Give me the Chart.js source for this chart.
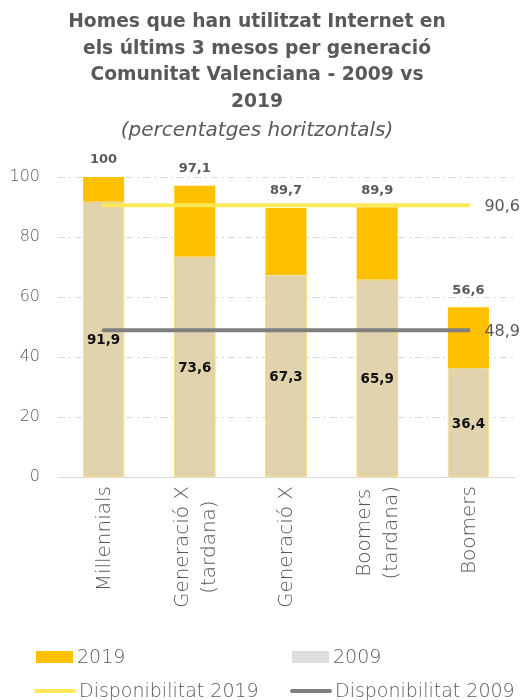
<!DOCTYPE html>
<html>
<head>
<meta charset="utf-8">
<script src="https://cdn.jsdelivr.net/npm/chart.js@4.4.1/dist/chart.umd.min.js"></script>
<style>
  html, body { margin: 0; padding: 0; background: #ffffff; }
  #wrap { width: 524px; height: 700px; position: relative; }
</style>
</head>
<body>
<div id="wrap"><canvas id="c" width="524" height="700"></canvas></div>
<script>
// ---- data ----
const categories = [
  ['Millennials'],
  ['Generació X', '(tardana)'],
  ['Generació X'],
  ['Boomers', '(tardana)'],
  ['Boomers']
];
const values2019 = [100, 97.1, 89.7, 89.9, 56.6];
const values2009 = [91.9, 73.6, 67.3, 65.9, 36.4];
const disponibilitat2019 = [90.6, 90.6, 90.6, 90.6, 90.6];
const disponibilitat2009 = [48.9, 48.9, 48.9, 48.9, 48.9];
const yTicks = [0, 20, 40, 60, 80, 100];

const titleLines = ['Homes que han utilitzat Internet en', 'els últims 3 mesos per generació', 'Comunitat Valenciana - 2009 vs', '2019'];
const subtitleText = '(percentatges horitzontals)';

const FONT = "'DejaVu Sans', sans-serif";
const GRAY_TEXT = '#595959';

function fmt(v) {
  return (Number.isInteger(v) ? String(v) : v.toFixed(1)).replace('.', ',');
}

const labelPlugin = {
  id: 'valueLabels',
  afterDatasetsDraw(chart) {
    const ctx = chart.ctx;
    ctx.save();
    chart.data.datasets.forEach((ds, i) => {
      const meta = chart.getDatasetMeta(i);
      if (meta.hidden) return;
      if (ds.labelMode === 'top') {
        ctx.font = "bold 13px " + FONT;
        ctx.fillStyle = GRAY_TEXT;
        ctx.textAlign = 'center';
        ctx.textBaseline = 'middle';
        meta.data.forEach((el, j) => ctx.fillText(fmt(ds.data[j]), el.x, el.y - 17));
      } else if (ds.labelMode === 'middle') {
        ctx.font = "bold 13.5px " + FONT;
        ctx.fillStyle = '#111111';
        ctx.textAlign = 'center';
        ctx.textBaseline = 'middle';
        meta.data.forEach((el, j) => ctx.fillText(fmt(ds.data[j]), el.x, (el.y + el.base) / 2 + 2));
      } else if (ds.labelMode === 'end') {
        ctx.font = "16px " + FONT;
        ctx.fillStyle = GRAY_TEXT;
        ctx.textAlign = 'left';
        ctx.textBaseline = 'middle';
        const n = meta.data.length - 1;
        const el = meta.data[n];
        ctx.fillText(fmt(ds.data[n]), el.x + 16, el.y + 2);
      }
    });
    ctx.restore();
  }
};

// category labels: rotated, multi-line blocks centred on the tick
const xLabelPlugin = {
  id: 'xLabels',
  afterDraw(chart) {
    const scale = chart.scales.x;
    const ctx = chart.ctx;
    ctx.save();
    ctx.font = "300 20px " + FONT;
    ctx.fillStyle = GRAY_TEXT;
    ctx.textBaseline = 'middle';
    ctx.textAlign = 'center';
    const lh = 27, pad = 9;
    chart.data.labels.forEach((lab, i) => {
      const lines = [].concat(lab);
      const blockW = Math.max(...lines.map(l => ctx.measureText(l).width));
      const x0 = scale.getPixelForTick(i);
      lines.forEach((line, k) => {
        const x = x0 + (k - (lines.length - 1) / 2) * lh + 1;
        const y = scale.top + pad + blockW / 2;
        ctx.save();
        ctx.translate(x, y);
        ctx.rotate(-Math.PI / 2);
        ctx.fillText(line, 0, 0);
        ctx.restore();
      });
    });
    ctx.restore();
  }
};

const legendPlugin = {
  id: 'gridLegend',
  afterDraw(chart, args, opts) {
    const ctx = chart.ctx;
    ctx.save();
    ctx.font = "300 19px " + FONT;
    ctx.fillStyle = GRAY_TEXT;
    ctx.textBaseline = 'middle';
    ctx.textAlign = 'left';
    opts.items.forEach(it => {
      const ds = chart.data.datasets[it.index];
      const color = ds.legendColor || ds.backgroundColor;
      if (ds.type === 'line') {
        ctx.strokeStyle = ds.borderColor;
        ctx.lineWidth = 4;
        ctx.lineCap = 'round';
        ctx.beginPath();
        ctx.moveTo(it.x, it.y);
        ctx.lineTo(it.x + 38, it.y);
        ctx.stroke();
        ctx.fillStyle = GRAY_TEXT;
        ctx.fillText(ds.label, it.x + 43, it.y + 1);
      } else {
        ctx.fillStyle = color;
        ctx.fillRect(it.x, it.y - 6, 37, 12);
        ctx.fillStyle = GRAY_TEXT;
        ctx.fillText(ds.label, it.x + 41, it.y + 1);
      }
    });
    ctx.restore();
  }
};

new Chart(document.getElementById('c'), {
  data: {
    labels: categories,
    datasets: [
      { type: 'line', label: 'Disponibilitat 2019', data: disponibilitat2019, borderColor: '#ffe959', borderWidth: 4,
        borderCapStyle: 'round', pointRadius: 0, order: 0, labelMode: 'end' },
      { type: 'line', label: 'Disponibilitat 2009', data: disponibilitat2009, borderColor: '#7f7f7f', borderWidth: 4,
        borderCapStyle: 'round', pointRadius: 0, order: 1, labelMode: 'end' },
      { type: 'bar', label: '2009', data: values2009, backgroundColor: '#e0d3ad', borderColor: '#f3e6b2', borderWidth: 1,
        grouped: false, order: 2, labelMode: 'middle', legendColor: '#dedede' },
      { type: 'bar', label: '2019', data: values2019, backgroundColor: '#ffc000', borderColor: '#ffc000', borderWidth: 0,
        grouped: false, order: 3, labelMode: 'top' }
    ]
  },
  options: {
    responsive: false,
    animation: false,
    devicePixelRatio: 1,
    layout: { padding: { top: 0, left: 0, right: 10, bottom: 83 } },
    datasets: { bar: { categoryPercentage: 1.0, barPercentage: 0.45 } },
    scales: {
      x: {
        grid: { display: false },
        border: { display: true, color: '#d9d9d9', width: 1 },
        ticks: { display: false, autoSkip: false },
        afterFit(scale) { scale.height = 140; }
      },
      y: {
        min: 0, max: 100,
        afterBuildTicks(scale) { scale.ticks = yTicks.map(v => ({ value: v })); },
        grid: { color: '#d9d9d9', lineWidth: 1, drawTicks: false },
        border: { display: false, dash: [7, 4, 2, 4] },
        ticks: { color: GRAY_TEXT, font: { family: FONT, size: 16, weight: 300 }, padding: 18 },
        afterFit(scale) { scale.width = 58; }
      }
    },
    plugins: {
      legend: { display: false },
      tooltip: { enabled: false },
      title: {
        display: true, text: titleLines, color: GRAY_TEXT,
        font: { family: FONT, size: 18.7, weight: 'bold', lineHeight: '26.5px' },
        padding: { top: 9, bottom: 4 }
      },
      subtitle: {
        display: true, text: subtitleText, color: GRAY_TEXT,
        font: { family: FONT, size: 20, style: 'italic', weight: 300, lineHeight: '24px' },
        padding: { top: 0, bottom: 34 }
      },
      gridLegend: {
        items: [
          { index: 3, x: 36, y: 657 },
          { index: 2, x: 292, y: 657 },
          { index: 0, x: 36, y: 691 },
          { index: 1, x: 292, y: 691 }
        ]
      }
    }
  },
  plugins: [labelPlugin, xLabelPlugin, legendPlugin]
});
</script>
</body>
</html>
